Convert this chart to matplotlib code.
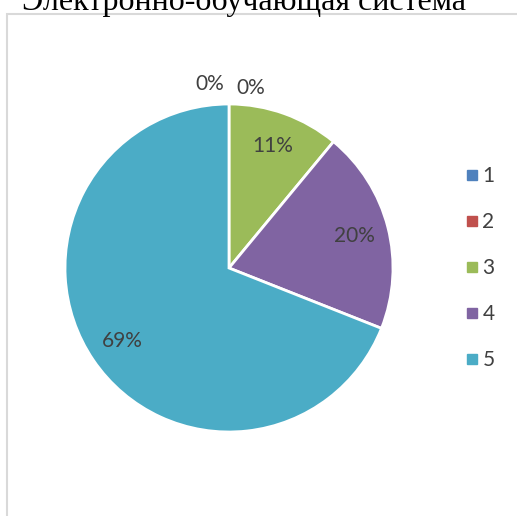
import numpy as np
import matplotlib.pyplot as plt
from matplotlib.lines import Line2D
from matplotlib.patches import Rectangle

categories = ['1', '2', '3', '4', '5']
values = [0, 0, 11, 20, 69]
colors = ['#4F81BD', '#C0504D', '#9BBB59', '#8064A2', '#4BACC6']
title = 'Электронно-обучающая система'

W, H = 517, 516
fig = plt.figure(figsize=(W/100, H/100), dpi=100)

# border of the chart area
fig.patches.append(Rectangle((6.5/W, -0.1), 1.2, (H-13.5)/H + 0.1, transform=fig.transFigure,
                             fill=False, edgecolor='#D9D9D9', lw=1.5))

fig.text(244/W, 1-10/H, title, ha='center', va='baseline',
         fontsize=23, family='Liberation Serif', color='black')

cx, cy, r = 229, 268, 164
ax = fig.add_axes([(cx-r)/W, (H-cy-r)/H, 2*r/W, 2*r/H])
wedges, _ = ax.pie(values, colors=colors, startangle=90, counterclock=False,
                   wedgeprops=dict(edgecolor='white', linewidth=2))
ax.set_xlim(-1, 1)
ax.set_ylim(-1, 1)
ax.set_aspect('equal')
ax.axis('off')

total = sum(values)
start = 90.0
for i, v in enumerate(values):
    span = 360.0 * v / total
    mid = np.deg2rad(start - span/2)
    start -= span
    txt = '%d%%' % round(100.0*v/total)
    if v == 0:
        # zero slices sit at the top edge, pushed apart
        dx = -0.12 if i == 0 else 0.13
        dy = 1.12 if i == 0 else 1.10
        ax.text(dx, dy, txt, ha='center', va='center', fontsize=15,
                family='Lato', color='#404040')
    else:
        ax.text(0.79*np.cos(mid), 0.79*np.sin(mid), txt, ha='center', va='center',
                fontsize=15, family='Lato', color='#404040')

handles = [Line2D([], [], marker='s', linestyle='none', markersize=6.5,
                  markerfacecolor=c, markeredgecolor=c) for c in colors]
fig.legend(handles, categories, loc='center left', bbox_to_anchor=(446/W, 1-268/H),
           frameon=False, handlelength=0.7, handletextpad=0.15, labelspacing=1.25,
           prop={'family': 'Lato', 'size': 15}, labelcolor='#404040')

fig.savefig('out.png', dpi=100)
